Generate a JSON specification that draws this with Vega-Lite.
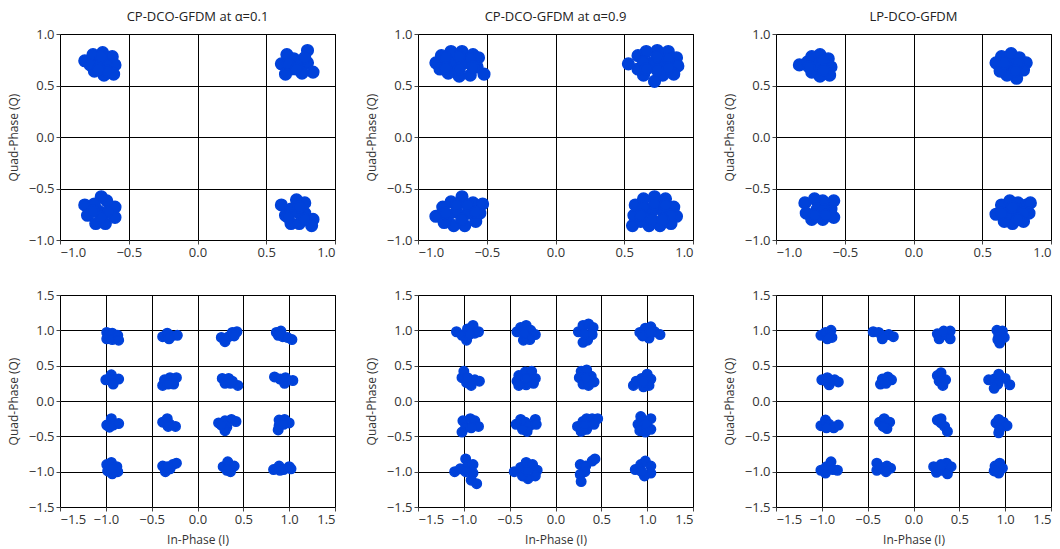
{
  "$schema": "https://vega.github.io/schema/vega-lite/v6.json",
  "padding": {"left": 6, "top": 10, "right": 5, "bottom": 5},
  "background": "white",
  "config": {
    "font": "Open Sans",
    "view": {"stroke": "#000", "strokeWidth": 1},
    "axis": {"grid": true, "gridColor": "#000", "gridOpacity": 1, "gridWidth": 1, "domain": false, "tickColor": "#444", "tickSize": 4, "labelFont": "Open Sans", "labelFontSize": 13, "labelColor": "#333", "titleFont": "Open Sans", "titleFontSize": 12, "titleFontWeight": "normal", "titleColor": "#333", "labelPadding": 2, "titlePadding": 8},
    "title": {"font": "Open Sans", "fontSize": 13, "fontWeight": "normal", "color": "#222", "offset": 4},
    "circle": {"fill": "#0042da", "stroke": "#0042da", "strokeWidth": 1.5, "opacity": 1, "fillOpacity": 1, "strokeOpacity": 1}
  },
  "datasets": {
    "pts": [
      {"p":1,"i":-0.82,"q":0.74},{"p":1,"i":-0.76,"q":0.80},{"p":1,"i":-0.69,"q":0.82},{"p":1,"i":-0.62,"q":0.78},{"p":1,"i":-0.60,"q":0.70},{"p":1,"i":-0.61,"q":0.61},{"p":1,"i":-0.68,"q":0.60},{"p":1,"i":-0.75,"q":0.64},{"p":1,"i":-0.72,"q":0.72},{"p":1,"i":-0.66,"q":0.70},{"p":1,"i":-0.78,"q":0.70},{"p":1,"i":-0.70,"q":0.78},{"p":1,"i":-0.66,"q":0.64},{"p":1,"i":-0.72,"q":0.66},
      {"p":1,"i":0.61,"q":0.71},{"p":1,"i":0.65,"q":0.80},{"p":1,"i":0.70,"q":0.76},{"p":1,"i":0.68,"q":0.66},{"p":1,"i":0.64,"q":0.61},{"p":1,"i":0.74,"q":0.70},{"p":1,"i":0.80,"q":0.84},{"p":1,"i":0.80,"q":0.72},{"p":1,"i":0.84,"q":0.63},{"p":1,"i":0.76,"q":0.62},{"p":1,"i":0.78,"q":0.77},{"p":1,"i":0.66,"q":0.71},{"p":1,"i":0.72,"q":0.66},
      {"p":1,"i":-0.82,"q":-0.66},{"p":1,"i":-0.80,"q":-0.76},{"p":1,"i":-0.74,"q":-0.84},{"p":1,"i":-0.67,"q":-0.84},{"p":1,"i":-0.60,"q":-0.78},{"p":1,"i":-0.60,"q":-0.68},{"p":1,"i":-0.66,"q":-0.62},{"p":1,"i":-0.70,"q":-0.58},{"p":1,"i":-0.75,"q":-0.65},{"p":1,"i":-0.72,"q":-0.72},{"p":1,"i":-0.66,"q":-0.73},{"p":1,"i":-0.70,"q":-0.78},{"p":1,"i":-0.76,"q":-0.72},
      {"p":1,"i":0.61,"q":-0.66},{"p":1,"i":0.64,"q":-0.76},{"p":1,"i":0.68,"q":-0.84},{"p":1,"i":0.74,"q":-0.84},{"p":1,"i":0.78,"q":-0.74},{"p":1,"i":0.78,"q":-0.64},{"p":1,"i":0.72,"q":-0.61},{"p":1,"i":0.68,"q":-0.70},{"p":1,"i":0.84,"q":-0.80},{"p":1,"i":0.83,"q":-0.86},{"p":1,"i":0.73,"q":-0.73},{"p":1,"i":0.66,"q":-0.78},{"p":1,"i":0.74,"q":-0.68},{"p":1,"i":0.78,"q":-0.80},

      {"p":2,"i":-0.87,"q":0.72},{"p":2,"i":-0.83,"q":0.79},{"p":2,"i":-0.76,"q":0.83},{"p":2,"i":-0.68,"q":0.83},{"p":2,"i":-0.60,"q":0.80},{"p":2,"i":-0.56,"q":0.77},{"p":2,"i":-0.57,"q":0.68},{"p":2,"i":-0.52,"q":0.61},{"p":2,"i":-0.62,"q":0.60},{"p":2,"i":-0.70,"q":0.59},{"p":2,"i":-0.78,"q":0.62},{"p":2,"i":-0.84,"q":0.66},{"p":2,"i":-0.75,"q":0.72},{"p":2,"i":-0.66,"q":0.72},{"p":2,"i":-0.80,"q":0.77},{"p":2,"i":-0.70,"q":0.66},{"p":2,"i":-0.62,"q":0.76},{"p":2,"i":-0.80,"q":0.67},{"p":2,"i":-0.60,"q":0.68},{"p":2,"i":-0.70,"q":0.78},
      {"p":2,"i":0.53,"q":0.71},{"p":2,"i":0.60,"q":0.79},{"p":2,"i":0.66,"q":0.83},{"p":2,"i":0.74,"q":0.84},{"p":2,"i":0.82,"q":0.83},{"p":2,"i":0.88,"q":0.77},{"p":2,"i":0.89,"q":0.69},{"p":2,"i":0.86,"q":0.61},{"p":2,"i":0.78,"q":0.60},{"p":2,"i":0.72,"q":0.54},{"p":2,"i":0.64,"q":0.60},{"p":2,"i":0.60,"q":0.66},{"p":2,"i":0.70,"q":0.72},{"p":2,"i":0.78,"q":0.72},{"p":2,"i":0.64,"q":0.73},{"p":2,"i":0.74,"q":0.78},{"p":2,"i":0.82,"q":0.76},{"p":2,"i":0.74,"q":0.65},{"p":2,"i":0.82,"q":0.67},{"p":2,"i":0.66,"q":0.66},
      {"p":2,"i":-0.87,"q":-0.77},{"p":2,"i":-0.82,"q":-0.68},{"p":2,"i":-0.76,"q":-0.63},{"p":2,"i":-0.68,"q":-0.58},{"p":2,"i":-0.60,"q":-0.64},{"p":2,"i":-0.53,"q":-0.65},{"p":2,"i":-0.55,"q":-0.74},{"p":2,"i":-0.58,"q":-0.82},{"p":2,"i":-0.66,"q":-0.86},{"p":2,"i":-0.74,"q":-0.86},{"p":2,"i":-0.81,"q":-0.83},{"p":2,"i":-0.72,"q":-0.73},{"p":2,"i":-0.64,"q":-0.74},{"p":2,"i":-0.78,"q":-0.76},{"p":2,"i":-0.72,"q":-0.66},{"p":2,"i":-0.64,"q":-0.66},{"p":2,"i":-0.68,"q":-0.80},{"p":2,"i":-0.58,"q":-0.73},{"p":2,"i":-0.80,"q":-0.74},
      {"p":2,"i":0.56,"q":-0.86},{"p":2,"i":0.57,"q":-0.76},{"p":2,"i":0.58,"q":-0.66},{"p":2,"i":0.64,"q":-0.60},{"p":2,"i":0.72,"q":-0.58},{"p":2,"i":0.80,"q":-0.60},{"p":2,"i":0.86,"q":-0.68},{"p":2,"i":0.88,"q":-0.77},{"p":2,"i":0.84,"q":-0.84},{"p":2,"i":0.76,"q":-0.86},{"p":2,"i":0.68,"q":-0.86},{"p":2,"i":0.62,"q":-0.82},{"p":2,"i":0.70,"q":-0.72},{"p":2,"i":0.78,"q":-0.72},{"p":2,"i":0.64,"q":-0.68},{"p":2,"i":0.62,"q":-0.76},{"p":2,"i":0.72,"q":-0.65},{"p":2,"i":0.80,"q":-0.66},{"p":2,"i":0.84,"q":-0.76},{"p":2,"i":0.70,"q":-0.80},{"p":2,"i":0.78,"q":-0.80},

      {"p":3,"i":-0.83,"q":0.70},{"p":3,"i":-0.77,"q":0.73},{"p":3,"i":-0.74,"q":0.78},{"p":3,"i":-0.68,"q":0.80},{"p":3,"i":-0.62,"q":0.76},{"p":3,"i":-0.60,"q":0.68},{"p":3,"i":-0.61,"q":0.60},{"p":3,"i":-0.68,"q":0.59},{"p":3,"i":-0.74,"q":0.63},{"p":3,"i":-0.70,"q":0.70},{"p":3,"i":-0.66,"q":0.74},{"p":3,"i":-0.65,"q":0.65},{"p":3,"i":-0.76,"q":0.68},
      {"p":3,"i":0.60,"q":0.72},{"p":3,"i":0.64,"q":0.78},{"p":3,"i":0.71,"q":0.81},{"p":3,"i":0.77,"q":0.77},{"p":3,"i":0.82,"q":0.72},{"p":3,"i":0.80,"q":0.65},{"p":3,"i":0.75,"q":0.57},{"p":3,"i":0.68,"q":0.60},{"p":3,"i":0.63,"q":0.64},{"p":3,"i":0.71,"q":0.70},{"p":3,"i":0.66,"q":0.72},{"p":3,"i":0.76,"q":0.71},{"p":3,"i":0.74,"q":0.64},
      {"p":3,"i":-0.79,"q":-0.64},{"p":3,"i":-0.78,"q":-0.74},{"p":3,"i":-0.74,"q":-0.80},{"p":3,"i":-0.66,"q":-0.80},{"p":3,"i":-0.58,"q":-0.78},{"p":3,"i":-0.60,"q":-0.70},{"p":3,"i":-0.58,"q":-0.62},{"p":3,"i":-0.66,"q":-0.62},{"p":3,"i":-0.72,"q":-0.60},{"p":3,"i":-0.70,"q":-0.70},{"p":3,"i":-0.65,"q":-0.71},{"p":3,"i":-0.72,"q":-0.76},{"p":3,"i":-0.64,"q":-0.76},
      {"p":3,"i":0.60,"q":-0.75},{"p":3,"i":0.64,"q":-0.66},{"p":3,"i":0.70,"q":-0.62},{"p":3,"i":0.76,"q":-0.64},{"p":3,"i":0.82,"q":-0.66},{"p":3,"i":0.85,"q":-0.64},{"p":3,"i":0.84,"q":-0.74},{"p":3,"i":0.80,"q":-0.82},{"p":3,"i":0.72,"q":-0.84},{"p":3,"i":0.66,"q":-0.82},{"p":3,"i":0.70,"q":-0.74},{"p":3,"i":0.76,"q":-0.74},{"p":3,"i":0.64,"q":-0.74},{"p":3,"i":0.80,"q":-0.74},{"p":3,"i":0.72,"q":-0.68},{"p":3,"i":0.76,"q":-0.80},

      {"p":4,"i":-0.99,"q":0.97},{"p":4,"i":-0.99,"q":0.88},{"p":4,"i":-0.93,"q":0.96},{"p":4,"i":-0.93,"q":0.87},{"p":4,"i":-0.87,"q":0.93},{"p":4,"i":-0.86,"q":0.86},
      {"p":4,"i":-0.38,"q":0.91},{"p":4,"i":-0.33,"q":0.96},{"p":4,"i":-0.28,"q":0.92},{"p":4,"i":-0.22,"q":0.93},{"p":4,"i":-0.31,"q":0.88},
      {"p":4,"i":0.26,"q":0.90},{"p":4,"i":0.30,"q":0.84},{"p":4,"i":0.34,"q":0.91},{"p":4,"i":0.38,"q":0.97},{"p":4,"i":0.43,"q":0.98},{"p":4,"i":0.40,"q":0.92},
      {"p":4,"i":0.86,"q":0.97},{"p":4,"i":0.91,"q":0.99},{"p":4,"i":0.93,"q":0.91},{"p":4,"i":0.98,"q":0.90},{"p":4,"i":1.03,"q":0.87},{"p":4,"i":0.88,"q":0.93},
      {"p":4,"i":-1.00,"q":0.30},{"p":4,"i":-0.94,"q":0.37},{"p":4,"i":-0.92,"q":0.30},{"p":4,"i":-0.86,"q":0.31},{"p":4,"i":-0.92,"q":0.24},
      {"p":4,"i":-0.38,"q":0.22},{"p":4,"i":-0.36,"q":0.30},{"p":4,"i":-0.30,"q":0.33},{"p":4,"i":-0.23,"q":0.33},{"p":4,"i":-0.26,"q":0.24},{"p":4,"i":-0.32,"q":0.24},
      {"p":4,"i":0.27,"q":0.32},{"p":4,"i":0.30,"q":0.25},{"p":4,"i":0.34,"q":0.32},{"p":4,"i":0.36,"q":0.25},{"p":4,"i":0.44,"q":0.22},{"p":4,"i":0.38,"q":0.28},
      {"p":4,"i":0.84,"q":0.34},{"p":4,"i":0.90,"q":0.31},{"p":4,"i":0.95,"q":0.25},{"p":4,"i":0.96,"q":0.33},{"p":4,"i":1.04,"q":0.29},
      {"p":4,"i":-0.99,"q":-0.34},{"p":4,"i":-0.94,"q":-0.25},{"p":4,"i":-0.92,"q":-0.34},{"p":4,"i":-0.86,"q":-0.32},{"p":4,"i":-0.96,"q":-0.37},
      {"p":4,"i":-0.38,"q":-0.30},{"p":4,"i":-0.33,"q":-0.25},{"p":4,"i":-0.30,"q":-0.33},{"p":4,"i":-0.24,"q":-0.36},{"p":4,"i":-0.32,"q":-0.36},
      {"p":4,"i":0.23,"q":-0.31},{"p":4,"i":0.30,"q":-0.28},{"p":4,"i":0.37,"q":-0.26},{"p":4,"i":0.42,"q":-0.29},{"p":4,"i":0.32,"q":-0.37},{"p":4,"i":0.30,"q":-0.42},{"p":4,"i":0.26,"q":-0.34},
      {"p":4,"i":0.89,"q":-0.27},{"p":4,"i":0.95,"q":-0.26},{"p":4,"i":1.00,"q":-0.31},{"p":4,"i":0.89,"q":-0.35},{"p":4,"i":0.88,"q":-0.41},{"p":4,"i":0.94,"q":-0.33},
      {"p":4,"i":-0.99,"q":-0.90},{"p":4,"i":-0.94,"q":-0.87},{"p":4,"i":-0.88,"q":-0.93},{"p":4,"i":-0.87,"q":-1.00},{"p":4,"i":-0.93,"q":-1.03},{"p":4,"i":-0.98,"q":-0.99},{"p":4,"i":-0.93,"q":-0.95},
      {"p":4,"i":-0.38,"q":-0.92},{"p":4,"i":-0.35,"q":-1.00},{"p":4,"i":-0.30,"q":-0.96},{"p":4,"i":-0.27,"q":-0.90},{"p":4,"i":-0.23,"q":-0.88},{"p":4,"i":-0.33,"q":-0.93},
      {"p":4,"i":0.28,"q":-0.93},{"p":4,"i":0.33,"q":-0.86},{"p":4,"i":0.40,"q":-0.92},{"p":4,"i":0.36,"q":-1.00},{"p":4,"i":0.32,"q":-0.98},
      {"p":4,"i":0.83,"q":-0.97},{"p":4,"i":0.89,"q":-0.92},{"p":4,"i":0.94,"q":-0.97},{"p":4,"i":1.00,"q":-0.93},{"p":4,"i":1.02,"q":-0.96},{"p":4,"i":0.90,"q":-0.98},

      {"p":5,"i":-1.08,"q":0.98},{"p":5,"i":-1.02,"q":0.93},{"p":5,"i":-0.97,"q":0.86},{"p":5,"i":-0.96,"q":1.02},{"p":5,"i":-0.90,"q":1.07},{"p":5,"i":-0.88,"q":0.96},{"p":5,"i":-0.84,"q":0.98},{"p":5,"i":-0.94,"q":0.94},
      {"p":5,"i":-0.42,"q":0.98},{"p":5,"i":-0.38,"q":1.04},{"p":5,"i":-0.32,"q":1.07},{"p":5,"i":-0.27,"q":1.00},{"p":5,"i":-0.22,"q":0.94},{"p":5,"i":-0.28,"q":0.87},{"p":5,"i":-0.35,"q":0.86},{"p":5,"i":-0.34,"q":0.96},
      {"p":5,"i":0.25,"q":0.98},{"p":5,"i":0.30,"q":1.07},{"p":5,"i":0.36,"q":1.09},{"p":5,"i":0.41,"q":1.04},{"p":5,"i":0.40,"q":0.94},{"p":5,"i":0.35,"q":0.86},{"p":5,"i":0.30,"q":0.83},{"p":5,"i":0.32,"q":0.95},
      {"p":5,"i":0.92,"q":0.97},{"p":5,"i":0.98,"q":1.03},{"p":5,"i":1.04,"q":1.05},{"p":5,"i":1.08,"q":0.98},{"p":5,"i":1.14,"q":0.94},{"p":5,"i":1.02,"q":0.89},{"p":5,"i":0.95,"q":0.92},{"p":5,"i":1.03,"q":0.97},
      {"p":5,"i":-1.02,"q":0.33},{"p":5,"i":-1.00,"q":0.42},{"p":5,"i":-0.97,"q":0.26},{"p":5,"i":-0.92,"q":0.22},{"p":5,"i":-0.88,"q":0.30},{"p":5,"i":-0.83,"q":0.28},{"p":5,"i":-0.96,"q":0.33},
      {"p":5,"i":-0.42,"q":0.28},{"p":5,"i":-0.40,"q":0.36},{"p":5,"i":-0.33,"q":0.41},{"p":5,"i":-0.26,"q":0.42},{"p":5,"i":-0.22,"q":0.32},{"p":5,"i":-0.24,"q":0.25},{"p":5,"i":-0.32,"q":0.23},{"p":5,"i":-0.40,"q":0.22},{"p":5,"i":-0.32,"q":0.32},
      {"p":5,"i":0.28,"q":0.42},{"p":5,"i":0.26,"q":0.33},{"p":5,"i":0.30,"q":0.24},{"p":5,"i":0.36,"q":0.22},{"p":5,"i":0.42,"q":0.27},{"p":5,"i":0.39,"q":0.35},{"p":5,"i":0.34,"q":0.44},{"p":5,"i":0.33,"q":0.33},
      {"p":5,"i":0.85,"q":0.22},{"p":5,"i":0.88,"q":0.28},{"p":5,"i":0.94,"q":0.32},{"p":5,"i":1.00,"q":0.38},{"p":5,"i":1.04,"q":0.31},{"p":5,"i":1.02,"q":0.22},{"p":5,"i":0.96,"q":0.20},{"p":5,"i":0.96,"q":0.27},
      {"p":5,"i":-1.01,"q":-0.28},{"p":5,"i":-0.98,"q":-0.37},{"p":5,"i":-1.02,"q":-0.44},{"p":5,"i":-0.93,"q":-0.25},{"p":5,"i":-0.88,"q":-0.28},{"p":5,"i":-0.84,"q":-0.36},{"p":5,"i":-0.92,"q":-0.38},
      {"p":5,"i":-0.43,"q":-0.33},{"p":5,"i":-0.38,"q":-0.26},{"p":5,"i":-0.33,"q":-0.30},{"p":5,"i":-0.28,"q":-0.35},{"p":5,"i":-0.22,"q":-0.26},{"p":5,"i":-0.21,"q":-0.33},{"p":5,"i":-0.31,"q":-0.43},{"p":5,"i":-0.36,"q":-0.40},
      {"p":5,"i":0.24,"q":-0.36},{"p":5,"i":0.30,"q":-0.29},{"p":5,"i":0.34,"q":-0.25},{"p":5,"i":0.40,"q":-0.25},{"p":5,"i":0.46,"q":-0.25},{"p":5,"i":0.42,"q":-0.33},{"p":5,"i":0.34,"q":-0.40},{"p":5,"i":0.28,"q":-0.43},{"p":5,"i":0.32,"q":-0.34},
      {"p":5,"i":0.93,"q":-0.22},{"p":5,"i":0.90,"q":-0.33},{"p":5,"i":0.92,"q":-0.42},{"p":5,"i":0.98,"q":-0.44},{"p":5,"i":1.04,"q":-0.40},{"p":5,"i":1.04,"q":-0.25},{"p":5,"i":0.99,"q":-0.32},
      {"p":5,"i":-1.10,"q":-1.00},{"p":5,"i":-1.04,"q":-0.96},{"p":5,"i":-0.98,"q":-0.82},{"p":5,"i":-0.96,"q":-0.92},{"p":5,"i":-0.90,"q":-0.90},{"p":5,"i":-0.90,"q":-1.02},{"p":5,"i":-0.92,"q":-1.12},{"p":5,"i":-0.86,"q":-1.17},{"p":5,"i":-0.98,"q":-1.00},
      {"p":5,"i":-0.45,"q":-1.00},{"p":5,"i":-0.38,"q":-0.94},{"p":5,"i":-0.32,"q":-0.87},{"p":5,"i":-0.25,"q":-0.90},{"p":5,"i":-0.20,"q":-0.98},{"p":5,"i":-0.22,"q":-1.06},{"p":5,"i":-0.30,"q":-1.10},{"p":5,"i":-0.36,"q":-1.06},{"p":5,"i":-0.31,"q":-0.99},
      {"p":5,"i":0.27,"q":-0.90},{"p":5,"i":0.33,"q":-0.92},{"p":5,"i":0.40,"q":-0.85},{"p":5,"i":0.43,"q":-0.82},{"p":5,"i":0.32,"q":-1.00},{"p":5,"i":0.27,"q":-1.04},{"p":5,"i":0.28,"q":-1.14},
      {"p":5,"i":0.87,"q":-0.97},{"p":5,"i":0.93,"q":-0.90},{"p":5,"i":0.98,"q":-0.85},{"p":5,"i":1.04,"q":-0.92},{"p":5,"i":1.04,"q":-1.02},{"p":5,"i":0.97,"q":-1.06},{"p":5,"i":0.94,"q":-1.00},

      {"p":6,"i":-1.01,"q":0.93},{"p":6,"i":-0.96,"q":0.97},{"p":6,"i":-0.90,"q":1.00},{"p":6,"i":-0.89,"q":0.90},{"p":6,"i":-0.94,"q":0.88},
      {"p":6,"i":-0.44,"q":0.98},{"p":6,"i":-0.38,"q":0.97},{"p":6,"i":-0.33,"q":0.92},{"p":6,"i":-0.27,"q":0.94},{"p":6,"i":-0.22,"q":0.91},{"p":6,"i":-0.34,"q":0.88},
      {"p":6,"i":0.26,"q":0.95},{"p":6,"i":0.28,"q":0.88},{"p":6,"i":0.34,"q":0.94},{"p":6,"i":0.40,"q":0.99},{"p":6,"i":0.40,"q":0.88},{"p":6,"i":0.33,"q":0.99},
      {"p":6,"i":0.91,"q":1.00},{"p":6,"i":0.97,"q":0.99},{"p":6,"i":0.93,"q":0.92},{"p":6,"i":0.99,"q":0.90},{"p":6,"i":0.94,"q":0.82},{"p":6,"i":0.92,"q":0.87},
      {"p":6,"i":-1.00,"q":0.30},{"p":6,"i":-0.94,"q":0.33},{"p":6,"i":-0.92,"q":0.23},{"p":6,"i":-0.86,"q":0.30},{"p":6,"i":-0.82,"q":0.27},{"p":6,"i":-0.94,"q":0.27},
      {"p":6,"i":-0.36,"q":0.24},{"p":6,"i":-0.34,"q":0.31},{"p":6,"i":-0.28,"q":0.34},{"p":6,"i":-0.24,"q":0.30},{"p":6,"i":-0.30,"q":0.25},
      {"p":6,"i":0.26,"q":0.36},{"p":6,"i":0.28,"q":0.28},{"p":6,"i":0.32,"q":0.22},{"p":6,"i":0.35,"q":0.30},{"p":6,"i":0.30,"q":0.40},
      {"p":6,"i":0.82,"q":0.30},{"p":6,"i":0.88,"q":0.31},{"p":6,"i":0.93,"q":0.38},{"p":6,"i":1.00,"q":0.32},{"p":6,"i":1.05,"q":0.23},{"p":6,"i":0.92,"q":0.24},{"p":6,"i":0.88,"q":0.18},
      {"p":6,"i":-1.01,"q":-0.35},{"p":6,"i":-0.96,"q":-0.27},{"p":6,"i":-0.92,"q":-0.33},{"p":6,"i":-0.87,"q":-0.38},{"p":6,"i":-0.82,"q":-0.34},{"p":6,"i":-0.95,"q":-0.38},
      {"p":6,"i":-0.37,"q":-0.30},{"p":6,"i":-0.32,"q":-0.25},{"p":6,"i":-0.26,"q":-0.30},{"p":6,"i":-0.29,"q":-0.39},{"p":6,"i":-0.33,"q":-0.36},
      {"p":6,"i":0.26,"q":-0.27},{"p":6,"i":0.30,"q":-0.31},{"p":6,"i":0.34,"q":-0.36},{"p":6,"i":0.37,"q":-0.43},{"p":6,"i":0.30,"q":-0.25},
      {"p":6,"i":0.90,"q":-0.31},{"p":6,"i":0.93,"q":-0.26},{"p":6,"i":0.98,"q":-0.30},{"p":6,"i":1.02,"q":-0.35},{"p":6,"i":0.94,"q":-0.40},{"p":6,"i":0.93,"q":-0.45},
      {"p":6,"i":-1.01,"q":-0.98},{"p":6,"i":-0.96,"q":-1.02},{"p":6,"i":-0.95,"q":-0.93},{"p":6,"i":-0.90,"q":-0.86},{"p":6,"i":-0.88,"q":-0.97},{"p":6,"i":-0.83,"q":-0.98},
      {"p":6,"i":-0.40,"q":-0.88},{"p":6,"i":-0.40,"q":-0.98},{"p":6,"i":-0.35,"q":-0.94},{"p":6,"i":-0.29,"q":-0.92},{"p":6,"i":-0.25,"q":-0.95},{"p":6,"i":-0.30,"q":-1.00},
      {"p":6,"i":0.22,"q":-0.93},{"p":6,"i":0.25,"q":-1.01},{"p":6,"i":0.31,"q":-0.98},{"p":6,"i":0.36,"q":-0.88},{"p":6,"i":0.41,"q":-0.93},{"p":6,"i":0.37,"q":-1.03},{"p":6,"i":0.30,"q":-0.90},
      {"p":6,"i":0.89,"q":-0.92},{"p":6,"i":0.94,"q":-0.88},{"p":6,"i":0.97,"q":-0.95},{"p":6,"i":0.93,"q":-1.02},{"p":6,"i":0.88,"q":-0.99}
    ]
  },
  "columns": 3,
  "bounds": "flush",
  "align": "each",
  "spacing": {"row": 55, "column": 83},
  "concat": [
    {
      "width": 275, "height": 206,
      "title": "CP-DCO-GFDM at α=0.1",
      "data": {"name": "pts"},
      "transform": [{"filter": "datum.p == 1"}],
      "mark": {"type": "circle", "size": 135, "opacity": 1},
      "encoding": {
        "x": {"field": "i", "type": "quantitative", "scale": {"domain": [-1, 1], "nice": false, "zero": false}, "axis": {"values": [-1, -0.5, 0, 0.5, 1], "format": ".1f", "title": null}},
        "y": {"field": "q", "type": "quantitative", "scale": {"domain": [-1, 1], "nice": false, "zero": false}, "axis": {"values": [-1, -0.5, 0, 0.5, 1], "format": ".1f", "title": "Quad-Phase (Q)"}}
      }
    },
    {
      "width": 275, "height": 206,
      "title": "CP-DCO-GFDM at α=0.9",
      "data": {"name": "pts"},
      "transform": [{"filter": "datum.p == 2"}],
      "mark": {"type": "circle", "size": 135, "opacity": 1},
      "encoding": {
        "x": {"field": "i", "type": "quantitative", "scale": {"domain": [-1, 1], "nice": false, "zero": false}, "axis": {"values": [-1, -0.5, 0, 0.5, 1], "format": ".1f", "title": null}},
        "y": {"field": "q", "type": "quantitative", "scale": {"domain": [-1, 1], "nice": false, "zero": false}, "axis": {"values": [-1, -0.5, 0, 0.5, 1], "format": ".1f", "title": "Quad-Phase (Q)"}}
      }
    },
    {
      "width": 275, "height": 206,
      "title": "LP-DCO-GFDM",
      "data": {"name": "pts"},
      "transform": [{"filter": "datum.p == 3"}],
      "mark": {"type": "circle", "size": 135, "opacity": 1},
      "encoding": {
        "x": {"field": "i", "type": "quantitative", "scale": {"domain": [-1, 1], "nice": false, "zero": false}, "axis": {"values": [-1, -0.5, 0, 0.5, 1], "format": ".1f", "title": null}},
        "y": {"field": "q", "type": "quantitative", "scale": {"domain": [-1, 1], "nice": false, "zero": false}, "axis": {"values": [-1, -0.5, 0, 0.5, 1], "format": ".1f", "title": "Quad-Phase (Q)"}}
      }
    },
    {
      "width": 275, "height": 212,
      "data": {"name": "pts"},
      "transform": [{"filter": "datum.p == 4"}],
      "mark": {"type": "circle", "size": 90, "opacity": 1},
      "encoding": {
        "x": {"field": "i", "type": "quantitative", "scale": {"domain": [-1.5, 1.5], "nice": false, "zero": false}, "axis": {"values": [-1.5, -1, -0.5, 0, 0.5, 1, 1.5], "format": ".1f", "title": "In-Phase (I)"}},
        "y": {"field": "q", "type": "quantitative", "scale": {"domain": [-1.5, 1.5], "nice": false, "zero": false}, "axis": {"values": [-1.5, -1, -0.5, 0, 0.5, 1, 1.5], "format": ".1f", "title": "Quad-Phase (Q)"}}
      }
    },
    {
      "width": 275, "height": 212,
      "data": {"name": "pts"},
      "transform": [{"filter": "datum.p == 5"}],
      "mark": {"type": "circle", "size": 90, "opacity": 1},
      "encoding": {
        "x": {"field": "i", "type": "quantitative", "scale": {"domain": [-1.5, 1.5], "nice": false, "zero": false}, "axis": {"values": [-1.5, -1, -0.5, 0, 0.5, 1, 1.5], "format": ".1f", "title": "In-Phase (I)"}},
        "y": {"field": "q", "type": "quantitative", "scale": {"domain": [-1.5, 1.5], "nice": false, "zero": false}, "axis": {"values": [-1.5, -1, -0.5, 0, 0.5, 1, 1.5], "format": ".1f", "title": "Quad-Phase (Q)"}}
      }
    },
    {
      "width": 275, "height": 212,
      "data": {"name": "pts"},
      "transform": [{"filter": "datum.p == 6"}],
      "mark": {"type": "circle", "size": 90, "opacity": 1},
      "encoding": {
        "x": {"field": "i", "type": "quantitative", "scale": {"domain": [-1.5, 1.5], "nice": false, "zero": false}, "axis": {"values": [-1.5, -1, -0.5, 0, 0.5, 1, 1.5], "format": ".1f", "title": "In-Phase (I)"}},
        "y": {"field": "q", "type": "quantitative", "scale": {"domain": [-1.5, 1.5], "nice": false, "zero": false}, "axis": {"values": [-1.5, -1, -0.5, 0, 0.5, 1, 1.5], "format": ".1f", "title": "Quad-Phase (Q)"}}
      }
    }
  ]
}
